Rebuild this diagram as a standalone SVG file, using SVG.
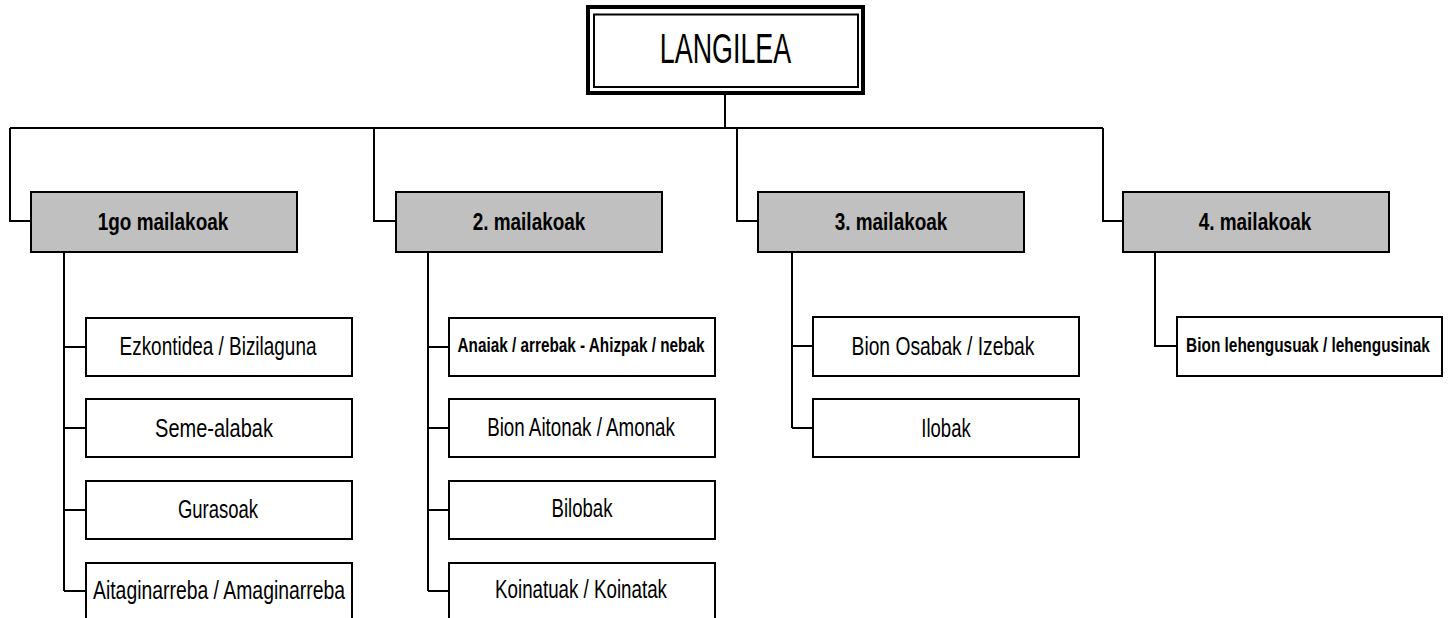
<svg xmlns="http://www.w3.org/2000/svg" width="1452" height="618" viewBox="0 0 1452 618">
<style>
  .ln{fill:none;stroke:#000;stroke-width:2}
  .l1 rect{fill:#c0c0c0;stroke:#000;stroke-width:2}
  .ch rect{fill:#fff;stroke:#000;stroke-width:2}
  text{font-family:"Liberation Sans",Arial,sans-serif;text-anchor:middle;fill:#000}
  .t1{font-size:24px;font-weight:bold}
  .t2{font-size:25px}
  .tb{font-size:19.5px;font-weight:bold}
</style>
<rect width="1452" height="618" fill="#fff"/>
<g id="connectors" class="ln">
  <path d="M725 95V128"/>
  <path d="M10 128H1103"/>
  <path d="M10 128V221H31"/>
  <path d="M374 128V221H396"/>
  <path d="M737 128V221H758"/>
  <path d="M1103 128V221H1123"/>
  <path d="M64 252V591"/>
  <path d="M64 347H86M64 428H86M64 510H86M64 591H86"/>
  <path d="M428 252V591"/>
  <path d="M428 347H449M428 428H449M428 510H449M428 591H449"/>
  <path d="M792 252V428"/>
  <path d="M792 346H813M792 428H813"/>
  <path d="M1155 252V346H1177"/>
</g>
<g id="langilea">
  <rect x="588" y="7" width="275" height="86" fill="#fff" stroke="#000" stroke-width="4"/>
  <rect x="594" y="14.5" width="264" height="72.5" fill="none" stroke="#000" stroke-width="2"/>
  <text transform="translate(725.5 63) scale(0.64 1)" style="font-size:42px">LANGILEA</text>
</g>
<g id="maila1" class="l1"><rect x="31" y="192" width="266" height="60"/><text class="t1" transform="translate(163 230) scale(0.79 1)">1go mailakoak</text></g>
<g id="maila2" class="l1"><rect x="396" y="192" width="266" height="60"/><text class="t1" transform="translate(529 230) scale(0.79 1)">2. mailakoak</text></g>
<g id="maila3" class="l1"><rect x="758" y="192" width="266" height="60"/><text class="t1" transform="translate(891 230) scale(0.79 1)">3. mailakoak</text></g>
<g id="maila4" class="l1"><rect x="1123" y="192" width="266" height="60"/><text class="t1" transform="translate(1255 230) scale(0.79 1)">4. mailakoak</text></g>

<g id="ezkontidea" class="ch"><rect x="86" y="318" width="266" height="58"/><text class="t2" transform="translate(218 355) scale(0.758 1)">Ezkontidea / Bizilaguna</text></g>
<g id="seme" class="ch"><rect x="86" y="399" width="266" height="58"/><text class="t2" transform="translate(214 437) scale(0.8 1)">Seme-alabak</text></g>
<g id="gurasoak" class="ch"><rect x="86" y="481" width="266" height="58"/><text class="t2" transform="translate(218 518) scale(0.74 1)">Gurasoak</text></g>
<g id="aitaginarreba" class="ch"><rect x="86" y="563" width="266" height="58"/><text class="t2" transform="translate(219 599) scale(0.775 1)">Aitaginarreba / Amaginarreba</text></g>

<g id="anaiak" class="ch"><rect x="449" y="318" width="266" height="58"/><text class="tb" transform="translate(581 352) scale(0.786 1)">Anaiak / arrebak - Ahizpak / nebak</text></g>
<g id="aitonak" class="ch"><rect x="449" y="399" width="266" height="58"/><text class="t2" transform="translate(581 436) scale(0.751 1)">Bion Aitonak / Amonak</text></g>
<g id="bilobak" class="ch"><rect x="449" y="481" width="266" height="58"/><text class="t2" transform="translate(582 517) scale(0.744 1)">Bilobak</text></g>
<g id="koinatuak" class="ch"><rect x="449" y="563" width="266" height="58"/><text class="t2" transform="translate(581 598) scale(0.75 1)">Koinatuak / Koinatak</text></g>

<g id="osabak" class="ch"><rect x="813" y="317" width="266" height="59"/><text class="t2" transform="translate(943 355) scale(0.77 1)">Bion Osabak / Izebak</text></g>
<g id="ilobak" class="ch"><rect x="813" y="399" width="266" height="58"/><text class="t2" transform="translate(946 437) scale(0.74 1)">Ilobak</text></g>

<g id="lehengusuak" class="ch"><rect x="1177" y="317" width="265" height="59"/><text class="tb" transform="translate(1308 352) scale(0.79 1)">Bion lehengusuak / lehengusinak</text></g>
</svg>
